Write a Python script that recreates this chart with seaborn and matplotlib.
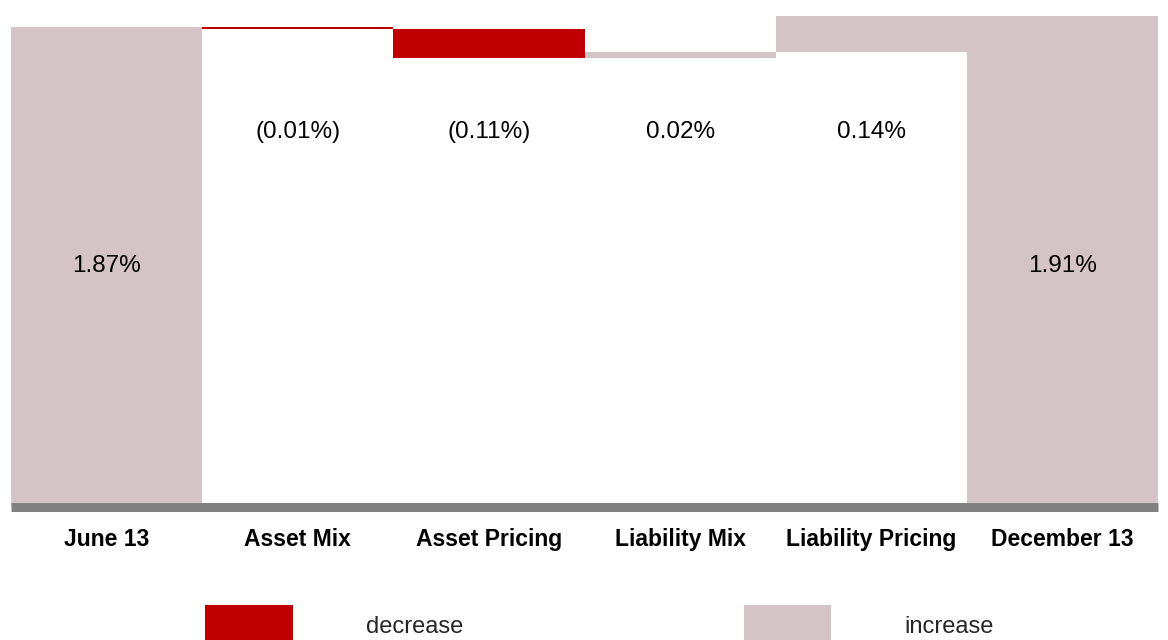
import matplotlib
matplotlib.use('Agg')
import matplotlib.pyplot as plt
from matplotlib.patches import Patch
import seaborn as sns

# waterfall data (percent)
categories = ['June 13', 'Asset Mix', 'Asset Pricing', 'Liability Mix', 'Liability Pricing', 'December 13']
changes = [1.87, -0.01, -0.11, 0.02, 0.14, 1.91]
is_total = [True, False, False, False, False, True]

RED = '#C00000'
PINK = '#D5C4C7'

sns.set_theme(style='white')
plt.rcParams['font.family'] = ['Liberation Sans', 'DejaVu Sans']

# running low/high for each bar
lows, highs, colors = [], [], []
level = 0.0
for v, tot in zip(changes, is_total):
    if tot:
        lows.append(0.0)
        highs.append(v)
        level = v
        colors.append(PINK)
    else:
        new = level + v
        lows.append(min(level, new))
        highs.append(max(level, new))
        colors.append(RED if v < 0 else PINK)
        level = new

fig = plt.figure(figsize=(11.68, 6.4), dpi=100)
ax = fig.add_axes([11 / 1168, 133 / 640, 1147 / 1168, 497 / 640])

# draw full height, then blank out the part below each floating bar
sns.barplot(x=categories, y=highs, hue=categories, palette=colors, width=1.0,
            saturation=1, linewidth=0, legend=False, ax=ax)
sns.barplot(x=categories, y=lows, color='white', width=1.0,
            saturation=1, linewidth=0, ax=ax)

ax.set_xlim(-0.5, 5.5)
ax.set_ylim(0, 1.935)
ax.set_yticks([])
ax.set_ylabel('')
for s in ['top', 'right', 'left']:
    ax.spines[s].set_visible(False)
ax.spines['bottom'].set_color('#808080')
ax.spines['bottom'].set_linewidth(6.5)
ax.spines['bottom'].set_capstyle('butt')
ax.tick_params(axis='x', length=0, pad=15)
for lbl in ax.get_xticklabels():
    lbl.set_fontweight('bold')
    lbl.set_fontsize(16.5)
    lbl.set_color('black')

# value labels
for i, (v, tot) in enumerate(zip(changes, is_total)):
    txt = f'{v:.2f}%' if v >= 0 else f'({abs(v):.2f}%)'
    y = 0.94 if tot else 1.46
    ax.text(i, y, txt, ha='center', va='center', fontsize=17.5, color='black')

handles = [Patch(facecolor=RED, edgecolor='none', label='decrease'),
           Patch(facecolor=PINK, edgecolor='none', label='increase')]
fig.legend(handles=handles, loc='center left', bbox_to_anchor=(184 / 1168, 14 / 640),
           ncol=2, frameon=False, fontsize=17, handlelength=3.7, handleheight=2.4,
           handletextpad=3.1, columnspacing=11.9)

fig.savefig('out.png', dpi=100)
